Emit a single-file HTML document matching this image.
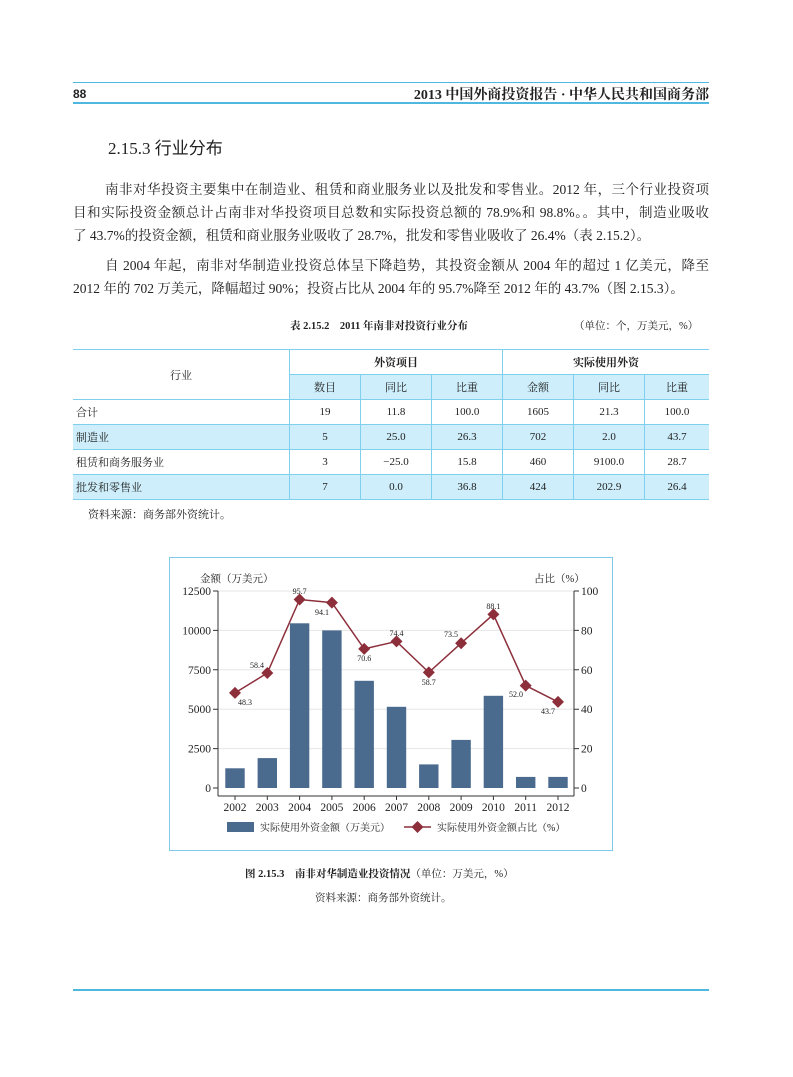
<!DOCTYPE html>
<html><head><meta charset="utf-8"><style>
body{margin:0;background:#fff;}
.pg{position:relative;width:793px;height:1077px;overflow:hidden;font-family:"Liberation Serif","Noto Serif CJK SC",serif;color:#222;}
.a{position:absolute;white-space:nowrap;}
.ln{position:absolute;left:73px;width:636px;font-size:13.5px;line-height:20px;text-align:justify;text-align-last:justify;white-space:nowrap;}
table{position:absolute;left:73px;top:349px;width:636px;border-collapse:collapse;font-size:11px;}
td{height:24px;border:1px solid #7fd0ee;border-left:none;border-right:1px solid #7fd0ee;text-align:center;padding:0;}
td:last-child{border-right:none;}
td.l{text-align:left;padding-left:3px;}
.b{background:#cdeefa;}
</style></head><body><div class="pg">
<div class="a" style="left:73px;top:82px;width:636px;height:1px;background:#4fb8e0"></div>
<div class="a" style="left:73px;top:87px;font-family:'Liberation Sans',sans-serif;font-weight:bold;font-size:12px">88</div>
<div class="a" style="right:84px;top:84px;font-size:14px;font-weight:bold">2013 中国外商投资报告 · 中华人民共和国商务部</div>
<div class="a" style="left:73px;top:102px;width:636px;height:2px;background:#4fb8e0"></div>
<div class="a" style="left:108px;top:134px;font-size:17px;font-family:'Liberation Serif','Noto Sans CJK SC',sans-serif">2.15.3 行业分布</div>
<div class="ln" style="top:180px;left:105px;width:604px">南非对华投资主要集中在制造业、租赁和商业服务业以及批发和零售业。2012 年，三个行业投资项</div>
<div class="ln" style="top:203px">目和实际投资金额总计占南非对华投资项目总数和实际投资总额的 78.9%和 98.8%。。其中，制造业吸收</div>
<div class="ln" style="top:226px;text-align-last:auto">了 43.7%的投资金额，租赁和商业服务业吸收了 28.7%，批发和零售业吸收了 26.4%（表 2.15.2）。</div>
<div class="ln" style="top:256px;left:105px;width:604px">自 2004 年起，南非对华制造业投资总体呈下降趋势，其投资金额从 2004 年的超过 1 亿美元，降至</div>
<div class="ln" style="top:279px;text-align-last:auto">2012 年的 702 万美元，降幅超过 90%；投资占比从 2004 年的 95.7%降至 2012 年的 43.7%（图 2.15.3）。</div>
<div class="a" style="left:290px;top:318px;font-size:10.5px;font-weight:bold">表 2.15.2　2011 年南非对投资行业分布</div>
<div class="a" style="left:574px;top:318px;font-size:10.5px">（单位：个，万美元，%）</div>
<table>
<tr><td rowspan="2" style="width:216px">行业</td><td colspan="3" style="font-weight:bold">外资项目</td><td colspan="3" style="font-weight:bold">实际使用外资</td></tr>
<tr class="b"><td style="width:70px">数目</td><td style="width:70px">同比</td><td style="width:70px">比重</td><td style="width:70px">金额</td><td style="width:70px">同比</td><td>比重</td></tr>
<tr><td class="l">合计</td><td>19</td><td>11.8</td><td>100.0</td><td>1605</td><td>21.3</td><td>100.0</td></tr>
<tr class="b"><td class="l">制造业</td><td>5</td><td>25.0</td><td>26.3</td><td>702</td><td>2.0</td><td>43.7</td></tr>
<tr><td class="l">租赁和商务服务业</td><td>3</td><td>−25.0</td><td>15.8</td><td>460</td><td>9100.0</td><td>28.7</td></tr>
<tr class="b"><td class="l">批发和零售业</td><td>7</td><td>0.0</td><td>36.8</td><td>424</td><td>202.9</td><td>26.4</td></tr>
</table>
<div class="a" style="left:88px;top:506px;font-size:11px">资料来源：商务部外资统计。</div>
<svg class="a" style="left:0;top:0" width="793" height="1077" font-family="Liberation Serif,Noto Serif CJK SC,serif">
<rect x="169.5" y="557.5" width="443" height="293" fill="#fff" stroke="#7fc8e8"/>
<g stroke="#e6e6e6" stroke-width="1">
<line x1="218" x2="574" y1="591" y2="591"/><line x1="218" x2="574" y1="630.4" y2="630.4"/><line x1="218" x2="574" y1="669.8" y2="669.8"/><line x1="218" x2="574" y1="709.2" y2="709.2"/><line x1="218" x2="574" y1="748.6" y2="748.6"/></g>
<g fill="#4a6a8e">
<rect x="225.3" y="768.3" width="19.4" height="19.7"/><rect x="257.6" y="758.1" width="19.4" height="29.9"/><rect x="289.9" y="623.3" width="19.4" height="164.7"/><rect x="322.2" y="630.4" width="19.4" height="157.6"/><rect x="354.5" y="680.8" width="19.4" height="107.2"/><rect x="386.8" y="706.8" width="19.4" height="81.2"/><rect x="419.1" y="764.4" width="19.4" height="23.6"/><rect x="451.4" y="739.9" width="19.4" height="48.1"/><rect x="483.7" y="695.8" width="19.4" height="92.2"/><rect x="516" y="776.9" width="19.4" height="11.1"/><rect x="548.3" y="776.9" width="19.4" height="11.1"/></g>
<g stroke="#333" stroke-width="1" fill="none">
<line x1="218" y1="591" x2="218" y2="796"/><line x1="574" y1="591" x2="574" y2="796"/><line x1="218" y1="796" x2="574" y2="796"/>
<path d="M213 591h5M213 630.4h5M213 669.8h5M213 709.2h5M213 748.6h5M213 788h5M574 591h5M574 630.4h5M574 669.8h5M574 709.2h5M574 748.6h5M574 788h5"/>
<path d="M235 796v4M267.3 796v4M299.6 796v4M331.9 796v4M364.2 796v4M396.5 796v4M428.8 796v4M461.1 796v4M493.4 796v4M525.7 796v4M558 796v4"/></g>
<g font-size="11.5" fill="#222" text-anchor="end">
<text x="211" y="595">12500</text><text x="211" y="634.4">10000</text><text x="211" y="673.8">7500</text><text x="211" y="713.2">5000</text><text x="211" y="752.6">2500</text><text x="211" y="792">0</text></g>
<g font-size="11.5" fill="#222">
<text x="581" y="595">100</text><text x="581" y="634.4">80</text><text x="581" y="673.8">60</text><text x="581" y="713.2">40</text><text x="581" y="752.6">20</text><text x="581" y="792">0</text>
<text x="200" y="582" font-size="10.5">金额（万美元）</text><text x="534" y="582" font-size="10.5">占比（%）</text></g>
<g font-size="11.5" fill="#222" text-anchor="middle">
<text x="235" y="811">2002</text><text x="267.3" y="811">2003</text><text x="299.6" y="811">2004</text><text x="331.9" y="811">2005</text><text x="364.2" y="811">2006</text><text x="396.5" y="811">2007</text><text x="428.8" y="811">2008</text><text x="461.1" y="811">2009</text><text x="493.4" y="811">2010</text><text x="525.7" y="811">2011</text><text x="558" y="811">2012</text></g>
<polyline fill="none" stroke="#8c2f3b" stroke-width="1.5" points="235,692.9 267.3,673 299.6,599.5 331.9,602.6 364.2,648.9 396.5,641.4 428.8,672.4 461.1,643.2 493.4,614.4 525.7,685.6 558,701.9"/>
<g fill="#8c2f3b">
<path d="M235 686.9l6 6-6 6-6-6z"/><path d="M267.3 667l6 6-6 6-6-6z"/><path d="M299.6 593.5l6 6-6 6-6-6z"/><path d="M331.9 596.6l6 6-6 6-6-6z"/><path d="M364.2 642.9l6 6-6 6-6-6z"/><path d="M396.5 635.4l6 6-6 6-6-6z"/><path d="M428.8 666.4l6 6-6 6-6-6z"/><path d="M461.1 637.2l6 6-6 6-6-6z"/><path d="M493.4 608.4l6 6-6 6-6-6z"/><path d="M525.7 679.6l6 6-6 6-6-6z"/><path d="M558 695.9l6 6-6 6-6-6z"/></g>
<g font-size="8" fill="#222" text-anchor="middle">
<text x="245" y="705">48.3</text><text x="257" y="668">58.4</text><text x="299.6" y="594">95.7</text><text x="322" y="615">94.1</text><text x="364.2" y="661">70.6</text><text x="396.5" y="636">74.4</text><text x="428.8" y="685">58.7</text><text x="451" y="637">73.5</text><text x="493.4" y="609">88.1</text><text x="516" y="697">52.0</text><text x="548" y="714">43.7</text></g>
<rect x="227" y="822" width="27" height="10" fill="#4a6a8e"/>
<text x="260" y="831" font-size="10" fill="#222">实际使用外资金额（万美元）</text>
<line x1="404" y1="827" x2="431" y2="827" stroke="#8c2f3b" stroke-width="1.5"/><path d="M417.5 821l6 6-6 6-6-6z" fill="#8c2f3b"/>
<text x="437" y="831" font-size="10" fill="#222">实际使用外资金额占比（%）</text>
</svg>
<div class="a" style="left:245px;top:866px;font-size:10.5px"><b>图 2.15.3　南非对华制造业投资情况</b>（单位：万美元，%）</div>
<div class="a" style="left:315px;top:890px;font-size:10.5px">资料来源：商务部外资统计。</div>
<div class="a" style="left:73px;top:989px;width:636px;height:2px;background:#4fb8e0"></div>
</div></body></html>
